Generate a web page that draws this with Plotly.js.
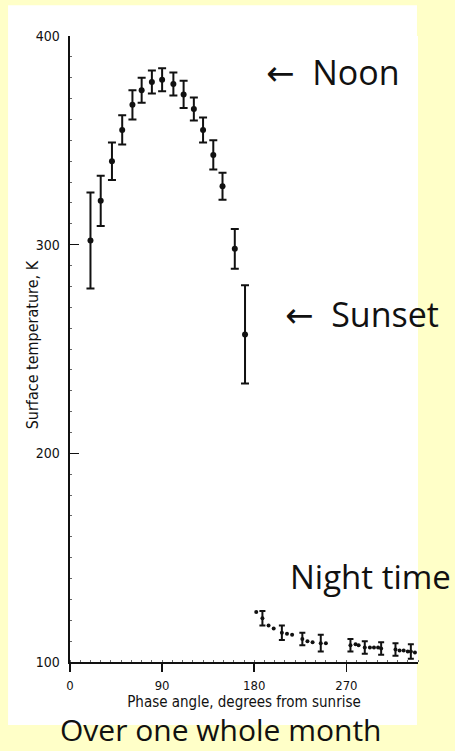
<!DOCTYPE html>
<html>
<head>
<meta charset="utf-8">
<script src="https://cdn.plot.ly/plotly-3.0.1.min.js"></script>
<style>html,body{margin:0;padding:0;background:#FFFFC8;}#chart{width:455px;height:751px;}</style>
</head>
<body>
<div id="chart"></div>
<script>
// Daytime measurements: phase angle (deg from sunrise), temperature (K), error (K)
const dayPhase = [20, 30, 41, 51, 61, 70, 80, 90, 101, 111, 121, 130, 140, 149, 161, 171];
const dayTemp  = [302, 321, 340, 355, 367, 374, 378, 379, 377, 372, 365, 355, 343, 328, 298, 257];
const dayErr   = [23, 12, 9, 7, 7, 6, 5.5, 5.5, 5.5, 6.5, 5.5, 6, 7, 6.5, 9.5, 23.5];

// Night-time measurements with error bars
const nightBarPhase = [188, 207, 227, 245, 274, 288, 304, 318, 333];
const nightBarTemp  = [121, 114, 111, 109, 108, 107, 106.5, 106, 105];
const nightBarErr   = [3.5, 3.5, 3, 4, 3, 3, 3, 3, 3.5];

// Night-time measurements without error bars
const nightDotPhase = [182, 194, 199, 212, 217, 232, 237, 250, 279, 282, 293, 297, 301, 322, 326, 330, 337];
const nightDotTemp  = [124, 117.5, 116, 113.5, 113, 110, 109.5, 109, 108.5, 108, 107, 107, 107, 105.5, 105.5, 105, 104.5];

const xTicks = [0, 90, 180, 270];
const yTicks = [100, 200, 300, 400];

const ink = '#111111';
const narrow = '"DejaVu Sans Condensed", "Liberation Sans Narrow", "DejaVu Sans", sans-serif';
const big = '"Open Sans", "DejaVu Sans", sans-serif';
const nb = '\u00a0';

const traces = [
  {
    x: dayPhase, y: dayTemp, type: 'scatter', mode: 'markers',
    marker: {color: ink, size: 6},
    error_y: {type: 'data', array: dayErr, visible: true, color: ink, thickness: 2, width: 4},
    cliponaxis: false, hoverinfo: 'x+y'
  },
  {
    x: nightBarPhase, y: nightBarTemp, type: 'scatter', mode: 'markers',
    marker: {color: ink, size: 4},
    error_y: {type: 'data', array: nightBarErr, visible: true, color: ink, thickness: 2, width: 3},
    cliponaxis: false
  },
  {
    x: nightDotPhase, y: nightDotTemp, type: 'scatter', mode: 'markers',
    marker: {color: ink, size: 4},
    cliponaxis: false
  }
];

const layout = {
  width: 455, height: 751,
  margin: {l: 70, r: 37, t: 36, b: 89},
  paper_bgcolor: '#FFFFC8',
  plot_bgcolor: '#FFFFFF',
  showlegend: false,
  font: {family: narrow, color: ink},
  xaxis: {
    range: [0, 340], tickvals: xTicks, ticktext: xTicks.map(String),
    showgrid: false, zeroline: false,
    showline: true, linecolor: ink, linewidth: 2,
    ticks: 'outside', ticklen: 8, tickwidth: 1.5, tickcolor: ink,
    ticklabelstandoff: 2,
    tickfont: {family: narrow, size: 13, color: ink},
    minor: {dtick: 10, ticks: 'inside', ticklen: 2, tickcolor: '#666', tickwidth: 1},
    title: {text: 'Phase angle, degrees from sunrise', standoff: 0,
            font: {family: narrow, size: 15, color: ink}},
    automargin: false
  },
  yaxis: {
    range: [100, 400], tickvals: yTicks, ticktext: yTicks.map(String),
    showgrid: false, zeroline: false,
    showline: true, linecolor: ink, linewidth: 2.5,
    ticks: 'inside', ticklen: 9, tickwidth: 1.5, tickcolor: ink,
    ticklabelstandoff: 5,
    tickfont: {family: narrow, size: 14, color: ink},
    minor: {dtick: 10, ticks: 'inside', ticklen: 2, tickcolor: '#666', tickwidth: 1},
    automargin: false
  },
  shapes: [
    {type: 'rect', xref: 'paper', yref: 'paper', x0: -0.178, x1: 0.997, y0: -0.1006, y1: 1.049,
     fillcolor: '#FFFFFF', line: {width: 0}, layer: 'below'}
  ],
  annotations: [
    {text: 'Surface temperature, K', textangle: -90, xref: 'paper', yref: 'paper', x: -0.109, y: 0.506,
     xanchor: 'center', yanchor: 'middle', showarrow: false, font: {family: narrow, size: 16, color: ink}},
    {text: '←' + nb + nb + 'Noon', xref: 'paper', yref: 'paper', x: 0.557, y: 0.942, xanchor: 'left', yanchor: 'middle',
     showarrow: false, font: {family: big, size: 34, color: ink}},
    {text: '←' + nb + nb + 'Sunset', xref: 'paper', yref: 'paper', x: 0.611, y: 0.5556, xanchor: 'left', yanchor: 'middle',
     showarrow: false, font: {family: big, size: 34, color: ink}},
    {text: 'Night time', xref: 'paper', yref: 'paper', x: 0.626, y: 0.136, xanchor: 'left', yanchor: 'middle',
     showarrow: false, font: {family: big, size: 33, color: ink}},
    {text: 'Over one whole month', xref: 'paper', yref: 'paper', x: 0.434, y: -0.1086, xanchor: 'center', yanchor: 'middle',
     showarrow: false, font: {family: big, size: 30, color: ink}}
  ]
};

Plotly.newPlot('chart', traces, layout, {displayModeBar: false, staticPlot: true});
</script>
</body>
</html>
